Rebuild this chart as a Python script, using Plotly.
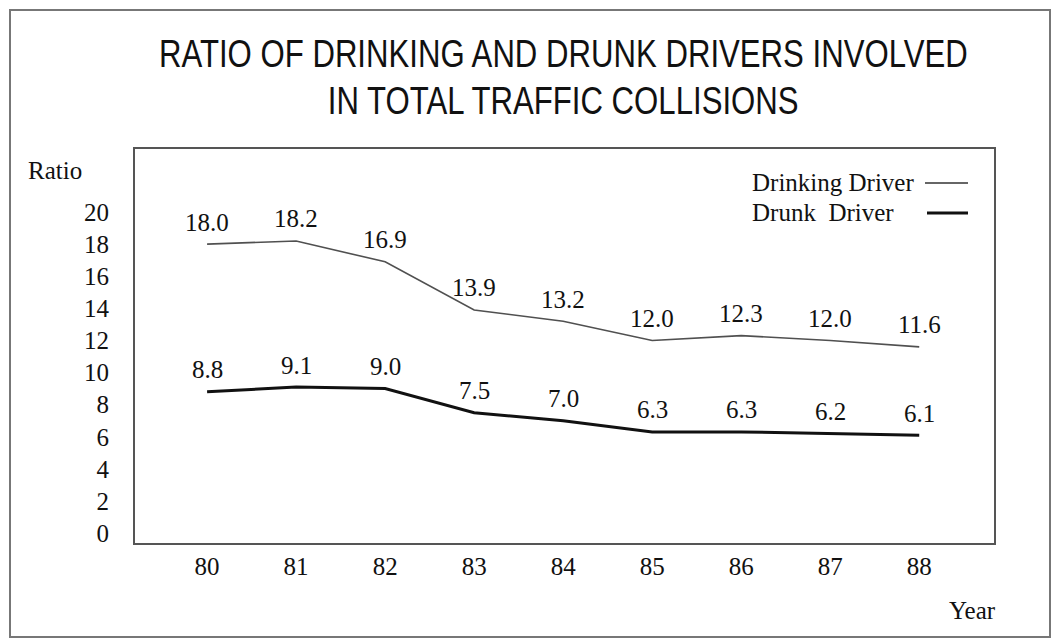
import json
import plotly.graph_objects as go

# Ratio (%) of drinking / drunk drivers among all traffic collisions, by year
years = [80, 81, 82, 83, 84, 85, 86, 87, 88]
drinking_driver = [18.0, 18.2, 16.9, 13.9, 13.2, 12.0, 12.3, 12.0, 11.6]
drunk_driver = [8.8, 9.1, 9.0, 7.5, 7.0, 6.3, 6.3, 6.2, 6.1]
y_ticks = [0, 2, 4, 6, 8, 10, 12, 14, 16, 18, 20]
title_lines = ["RATIO OF DRINKING AND DRUNK DRIVERS INVOLVED",
               "IN TOTAL TRAFFIC COLLISIONS"]

W, H = 1057, 641
L, R, T, B = 135, 63, 149, 98
PW, PH = W - L - R, H - T - B

SERIF = "Liberation Serif, Times New Roman, serif"
SANS = "Liberation Sans, Arial, sans-serif"
TXT = "#111111"


def px(x):
    return (x - L) / PW


def py(y):
    return (H - B - y) / PH


fig = go.Figure()
fig.add_trace(go.Scatter(x=years, y=drinking_driver, mode="lines",
                         line=dict(color="#505050", width=1.6),
                         name="Drinking Driver", showlegend=False))
fig.add_trace(go.Scatter(x=years, y=drunk_driver, mode="lines",
                         line=dict(color="#111111", width=3),
                         name="Drunk Driver", showlegend=False))

annotations = []
# value labels above each point
for series in (drinking_driver, drunk_driver):
    for x, v in zip(years, series):
        annotations.append(dict(x=x, y=v, xref="x", yref="y", text=f"{v:.1f}",
                                showarrow=False, yshift=22, yanchor="middle",
                                font=dict(family=SERIF, size=25, color=TXT)))

# title lines (condensed horizontally in the page script below)
for line, ypix in zip(title_lines, (54, 101)):
    annotations.append(dict(x=px(563), y=py(ypix), xref="paper", yref="paper",
                            text=line, showarrow=False, xanchor="center",
                            yanchor="middle",
                            font=dict(family=SANS, size=38, color=TXT)))

# axis names
annotations.append(dict(x=px(26), y=py(170), xref="paper", yref="paper",
                        text="Ratio", showarrow=False, xanchor="left", yanchor="middle",
                        font=dict(family=SERIF, size=25, color=TXT)))
annotations.append(dict(x=px(972), y=py(610), xref="paper", yref="paper",
                        text="Year", showarrow=False, xanchor="center", yanchor="middle",
                        font=dict(family=SERIF, size=25, color=TXT)))

# legend entries (text, then line sample)
annotations.append(dict(x=px(750), y=py(182), xref="paper", yref="paper",
                        text="Drinking Driver", showarrow=False, xanchor="left",
                        yanchor="middle", font=dict(family=SERIF, size=25, color=TXT)))
annotations.append(dict(x=px(750), y=py(212), xref="paper", yref="paper",
                        text="Drunk\u00a0 Driver", showarrow=False, xanchor="left",
                        yanchor="middle", font=dict(family=SERIF, size=25, color=TXT)))

shapes = [
    dict(type="line", xref="paper", yref="paper", x0=px(925), x1=px(968),
         y0=py(183), y1=py(183), line=dict(color="#333", width=1.5)),
    dict(type="line", xref="paper", yref="paper", x0=px(927), x1=px(968),
         y0=py(213), y1=py(213), line=dict(color="#111", width=3)),
    # outer frame around the whole figure
    dict(type="rect", xref="paper", yref="paper", x0=px(10), x1=px(1050),
         y0=py(637), y1=py(10), line=dict(color="#777", width=2), layer="below"),
]

fig.update_layout(
    width=W, height=H,
    margin=dict(l=L, r=R, t=T, b=B, pad=0),
    paper_bgcolor="white", plot_bgcolor="white",
    showlegend=False,
    annotations=annotations,
    shapes=shapes,
    xaxis=dict(range=[79.19, 88.84], tickmode="array", tickvals=years,
               ticktext=[str(y) for y in years], showgrid=False, zeroline=False,
               showline=True, linecolor="#555", linewidth=2, mirror=True,
               ticks="", ticklabelstandoff=0,
               tickfont=dict(family=SERIF, size=25, color=TXT)),
    yaxis=dict(range=[-0.62, 23.93], tickmode="array", tickvals=y_ticks,
               ticktext=[str(t) for t in y_ticks], showgrid=False, zeroline=False,
               showline=True, linecolor="#555", linewidth=2, mirror=True,
               ticks="", ticklabelstandoff=19,
               tickfont=dict(family=SERIF, size=25, color=TXT)),
)

# Narrow the title text so it reads like a condensed grotesque face.
squeeze_js = """
var gd = document.getElementById('{plot_id}');
var titles = %s;
function squeeze() {
  gd.querySelectorAll('.annotation-text').forEach(function (t) {
    if (titles.indexOf(t.textContent) >= 0) {
      t.style.transformBox = 'fill-box';
      t.style.transformOrigin = 'center';
      t.style.transform = 'scaleX(0.82)';
    }
  });
}
squeeze();
gd.on('plotly_afterplot', squeeze);
""" % json.dumps(title_lines)

fig.write_html("out.html", post_script=squeeze_js)
